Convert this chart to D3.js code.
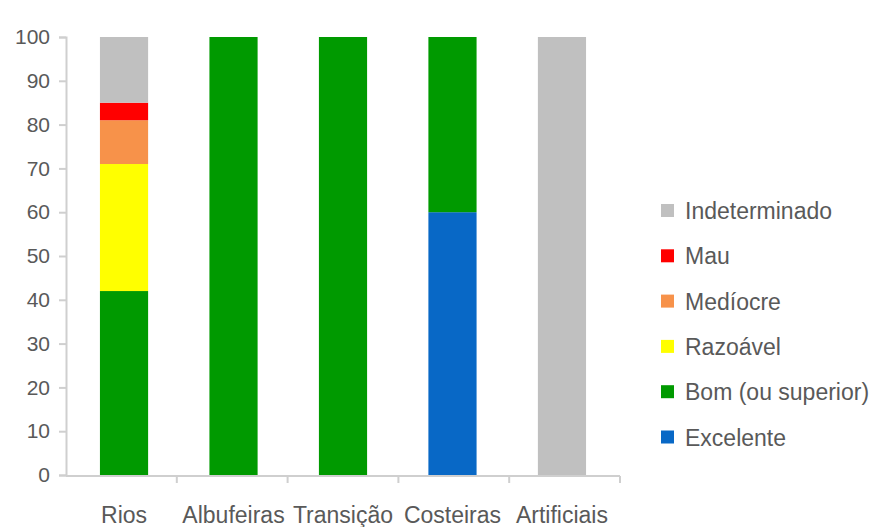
<!DOCTYPE html>
<html>
<head>
<meta charset="utf-8">
<script src="https://cdn.jsdelivr.net/npm/d3@7"></script>
<style>
  html, body { margin: 0; padding: 0; background: #fff; }
  svg { display: block; }
  text { font-family: "Liberation Sans", Arial, sans-serif; fill: #595959; }
</style>
</head>
<body>
<svg id="chart" width="872" height="527"></svg>
<script>
// Water body classes and the share (%) of each quality class
const categories = ["Rios", "Albufeiras", "Transição", "Costeiras", "Artificiais"];
const excelente     = [0, 0, 0, 60, 0];
const bom           = [42, 100, 100, 40, 0];
const razoavel      = [29, 0, 0, 0, 0];
const mediocre      = [10, 0, 0, 0, 0];
const mau           = [4, 0, 0, 0, 0];
const indeterminado = [15, 0, 0, 0, 100];

const seriesNames = ["Excelente", "Bom (ou superior)", "Razoável", "Medíocre", "Mau", "Indeterminado"];
const seriesValues = [excelente, bom, razoavel, mediocre, mau, indeterminado];
const seriesColors = ["#0868c6", "#009a00", "#ffff00", "#f7924a", "#ff0000", "#c0c0c0"];
const yTicks = [0, 10, 20, 30, 40, 50, 60, 70, 80, 90, 100];

const rows = categories.map((c, i) => {
  const r = { category: c };
  seriesNames.forEach((s, j) => { r[s] = seriesValues[j][i]; });
  return r;
});

const svg = d3.select("#chart");
const plotLeft = 66, plotRight = 620, plotTop = 37, plotBottom = 475;

const x = d3.scaleBand().domain(categories).range([plotLeft, plotRight]).paddingInner(0.56).paddingOuter(0.31);
const y = d3.scaleLinear().domain([0, 100]).range([plotBottom, plotTop]);
const color = d3.scaleOrdinal().domain(seriesNames).range(seriesColors);

const stacked = d3.stack().keys(seriesNames)(rows);

// Stacked bars
svg.append("g").selectAll("g")
  .data(stacked)
  .join("g")
  .attr("fill", d => color(d.key))
  .selectAll("rect")
  .data(d => d)
  .join("rect")
  .attr("x", d => x(d.data.category))
  .attr("width", x.bandwidth())
  .attr("y", d => y(d[1]))
  .attr("height", d => y(d[0]) - y(d[1]));

// Y axis
const yAxis = svg.append("g")
  .attr("transform", `translate(${plotLeft},0)`)
  .call(d3.axisLeft(y).tickValues(yTicks).tickSize(7).tickPadding(9));
yAxis.select(".domain").attr("stroke", "#cfcfcf").attr("stroke-width", 2);
yAxis.selectAll(".tick line").attr("stroke", "#cfcfcf").attr("stroke-width", 2);
yAxis.selectAll(".tick text").style("font-size", "21px").attr("fill", "#595959")
  .style("font-family", "'Liberation Sans', Arial, sans-serif");

// X axis with ticks between categories
const boundaries = categories.map((c, i) => plotLeft + (i + 1) * (plotRight - plotLeft) / categories.length);
const xg = svg.append("g");
xg.append("line")
  .attr("x1", plotLeft).attr("x2", plotRight)
  .attr("y1", plotBottom + 1).attr("y2", plotBottom + 1)
  .attr("stroke", "#cfcfcf").attr("stroke-width", 2);
xg.selectAll("line.tk")
  .data(boundaries)
  .join("line")
  .attr("class", "tk")
  .attr("x1", d => d).attr("x2", d => d)
  .attr("y1", plotBottom + 1).attr("y2", plotBottom + 8)
  .attr("stroke", "#cfcfcf").attr("stroke-width", 2);
xg.selectAll("text")
  .data(categories)
  .join("text")
  .attr("x", d => x(d) + x.bandwidth() / 2)
  .attr("y", 515)
  .attr("text-anchor", "middle")
  .attr("dominant-baseline", "central")
  .style("font-size", "23px")
  .text(d => d);

// Legend, top-down from Indeterminado to Excelente
const legendItems = seriesNames.slice().reverse();
const lg = svg.append("g").selectAll("g")
  .data(legendItems)
  .join("g")
  .attr("transform", (d, i) => `translate(661,${211 + i * 45.3})`);
lg.append("rect")
  .attr("x", 0).attr("y", -7)
  .attr("width", 13).attr("height", 13)
  .attr("fill", d => color(d));
lg.append("text")
  .attr("x", 24).attr("y", 0)
  .attr("dominant-baseline", "central")
  .style("font-size", "23px")
  .text(d => d);
</script>
</body>
</html>
